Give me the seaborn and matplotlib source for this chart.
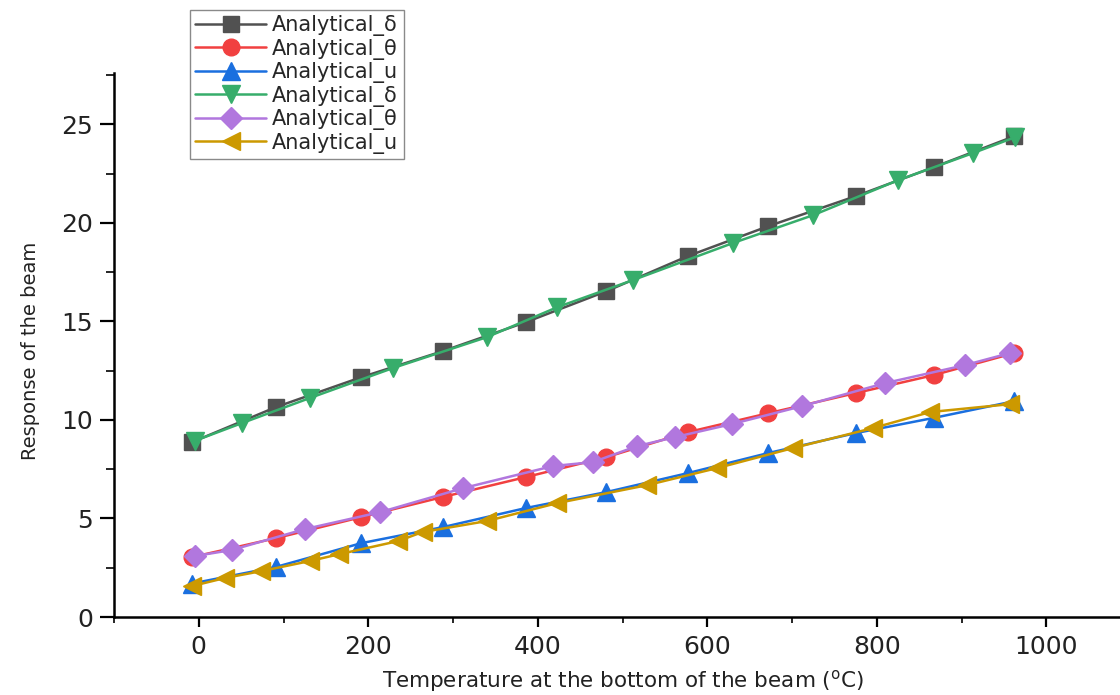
import matplotlib
matplotlib.use("Agg")
import matplotlib.pyplot as plt
import seaborn as sns
from matplotlib.ticker import MultipleLocator

# ---- data ----
temp_a = [-8, 91, 192, 288, 386, 481, 577, 672, 775, 867, 962]
delta_a = [8.87, 10.65, 12.17, 13.49, 14.96, 16.53, 18.31, 19.83, 21.35, 22.82, 24.39]
theta_a = [3.04, 4.0, 5.07, 6.09, 7.1, 8.11, 9.38, 10.34, 11.36, 12.27, 13.39]
u_a = [1.7, 2.54, 3.75, 4.56, 5.53, 6.34, 7.30, 8.32, 9.33, 10.1, 10.95]

temp_g = [-4, 51, 131, 229, 340, 423, 512, 630, 725, 825, 913, 963]
delta_g = [8.95, 9.84, 11.11, 12.63, 14.2, 15.72, 17.09, 18.97, 20.39, 22.16, 23.53, 24.34]

temp_p = [-5, 39, 125, 214, 312, 418, 465, 517, 562, 629, 712, 810, 904, 957]
theta_p = [3.09, 3.40, 4.46, 5.32, 6.54, 7.66, 7.86, 8.67, 9.13, 9.79, 10.7, 11.87, 12.78, 13.39]

temp_y = [-8, 31, 74, 131, 166, 235, 264, 340, 423, 529, 612, 701, 795, 863, 957]
u_y = [1.57, 1.98, 2.33, 2.84, 3.19, 3.85, 4.31, 4.87, 5.78, 6.69, 7.56, 8.57, 9.58, 10.4, 10.8]

labels = ["Analytical_\u03b4", "Analytical_\u03b8", "Analytical_u",
          "Analytical_\u03b4", "Analytical_\u03b8", "Analytical_u"]
colors = ["#515151", "#F14040", "#1A6FDF", "#37AD6B", "#B177DE", "#CC9900"]
markers = ["s", "o", "^", "v", "D", "<"]
msizes = [12, 12, 13, 13, 11, 13]

sns.set_theme(style="ticks")
plt.rcParams["font.family"] = ["DejaVu Sans"]
plt.rcParams["mathtext.fontset"] = "dejavusans"

fig = plt.figure(figsize=(11.2, 6.95), dpi=100)
ax = fig.add_axes([0.1018, 0.1122, 0.8982, 0.7827])

series = [(temp_a, delta_a), (temp_a, theta_a), (temp_a, u_a),
          (temp_g, delta_g), (temp_p, theta_p), (temp_y, u_y)]
for (xs, ys), lab, c, m, ms in zip(series, labels, colors, markers, msizes):
    sns.lineplot(x=xs, y=ys, ax=ax, color=c, marker=m, markersize=ms,
                 markeredgecolor=c, markeredgewidth=1, linewidth=1.8,
                 label=lab, sort=False, estimator=None)

ax.set_xlim(-100, 1087)
ax.set_ylim(0, 27.6)
ax.xaxis.set_major_locator(MultipleLocator(200))
ax.xaxis.set_minor_locator(MultipleLocator(100))
ax.yaxis.set_major_locator(MultipleLocator(5))
ax.yaxis.set_minor_locator(MultipleLocator(2.5))

for s in ["top", "right"]:
    ax.spines[s].set_visible(False)
for s in ["left", "bottom"]:
    ax.spines[s].set_linewidth(1.8)
    ax.spines[s].set_color("black")

ax.tick_params(axis="y", which="major", direction="out", length=10, width=1.6,
               labelsize=18, pad=5, colors="black")
ax.tick_params(axis="y", which="minor", direction="out", length=5.5, width=1.4)
ax.tick_params(axis="x", which="major", direction="out", length=7, width=1.6,
               labelsize=18, pad=6, colors="black")
ax.tick_params(axis="x", which="minor", direction="out", length=4.5, width=1.4)
for lbl in ax.get_xticklabels() + ax.get_yticklabels():
    lbl.set_color("#222222")

ax.set_xlabel("Temperature at the bottom of the beam ($^{\\rm o}$C)", fontsize=15.5,
              color="#222222")
ax.set_ylabel("Response of the beam", fontsize=14, color="#222222")
ax.xaxis.set_label_coords(0.506, -0.094)
ax.yaxis.set_label_coords(-0.074, 0.49)

leg = ax.legend(loc="upper left", bbox_to_anchor=(190 / 1120, 1 - 10 / 695),
                bbox_transform=fig.transFigure, borderaxespad=0, frameon=True,
                fancybox=False, edgecolor="#8a8a8a", framealpha=1, fontsize=15,
                handlelength=3.4, handletextpad=0.3, labelspacing=0.12,
                borderpad=0.25)
leg.get_frame().set_linewidth(1.0)

fig.savefig("out.png", dpi=100)
